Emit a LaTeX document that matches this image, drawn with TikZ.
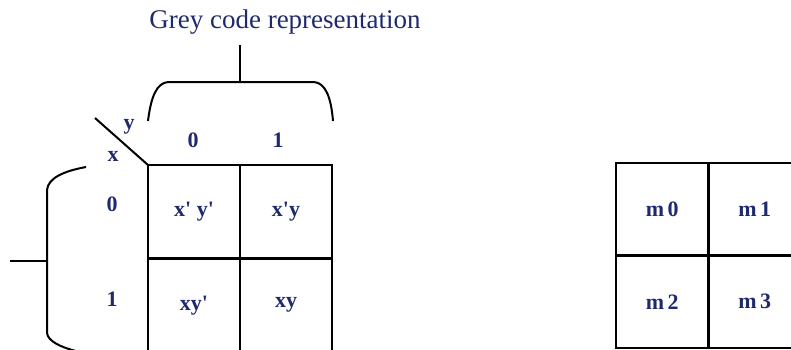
\documentclass[tikz,border=0pt]{standalone}
\usepackage{fontspec}
\setmainfont{Liberation Serif}
\usepackage{tikz}
\usetikzlibrary{positioning}
\definecolor{navy}{RGB}{31,42,110}

\begin{document}
\begin{tikzpicture}[
x=1pt, y=-1pt,
node distance=0pt,
cell/.style={rectangle, draw, line width=2.2pt, outer sep=0pt, minimum width=92.5pt, minimum height=92.5pt, text=navy, font=\bfseries\fontsize{22}{24}\selectfont},
lcell/.style={cell, minimum width=92pt, minimum height=93.5pt},
lbl/.style={text=navy, font=\bfseries\fontsize{22}{24}\selectfont},
brace/.style={line width=2pt}
]
\useasboundingbox (0,0) rectangle (791,349);
% heading
\node[text=navy, font=\fontsize{27}{30}\selectfont] (title) at (285,22) {Grey code representation};
% left map
\node[lcell, anchor=north west] (c00) at (148,165) {x\textquotesingle\ y\textquotesingle};
\node[lcell, right=of c00] (c01) {x\textquotesingle y};
\node[lcell, below=of c00] (c10) {xy\textquotesingle};
\node[lcell, right=of c10] (c11) {xy};
% right map
\node[cell, anchor=north west] (m0) at (616,163) {m\,0};
\node[cell, right=of m0] (m1) {m\,1};
\node[cell, below=of m0] (m2) {m\,2};
\node[cell, right=of m2] (m3) {m\,3};
% headers
\node[lbl] (ylbl) at (129,127) {y};
\node[lbl] (xlbl) at (113,156) {x};
\node[lbl] (col0) at (193,140) {0};
\node[lbl] (col1) at (278,140) {1};
\node[lbl] (row0) at (112,204) {0};
\node[lbl] (row1) at (112,299) {1};
\coordinate (slash) at (95,118);
\draw[brace] (slash) -- (c00.north west);
% braces
\draw[brace] (148,121) .. controls (151,96) and (157,83) .. (168,82) -- (314,82) .. controls (325,83) and (331,96) .. (333,121);
\draw[brace] (240,45) -- (240,82);
\draw[brace] (86,167) .. controls (64,171) and (48,178) .. (47,190) -- (47,333) .. controls (48,341) and (60,347) .. (76,351);
\draw[brace] (10,261) -- (47,261);
\end{tikzpicture}
\end{document}
